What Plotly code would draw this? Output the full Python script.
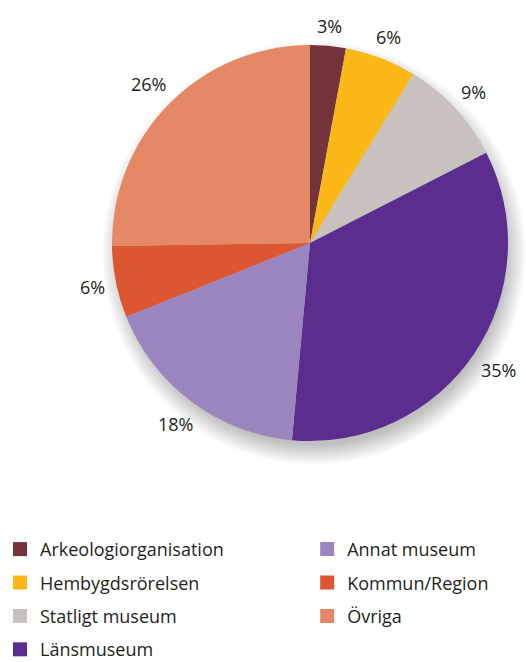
import math
import plotly.graph_objects as go

# Share of respondents by organisation type (percent)
categories = ["Arkeologiorganisation", "Hembygdsrörelsen", "Statligt museum",
              "Länsmuseum", "Annat museum", "Kommun/Region", "Övriga"]
shares = [3, 6, 9, 35, 18, 6, 26]
colors = ["#74323a", "#fbb817", "#c8c1be", "#5b2d8e", "#9b85be", "#db5631", "#e58865"]

W, H = 526, 662
FONT = "Open Sans"
TEXT_COLOR = "#231f20"
LABEL_SIZE = 18

# Pie placement in pixels
CX, CY, R = 310, 243, 198


def px_domain(cx, cy, r):
    clamp = lambda v: min(1.0, max(0.0, v))
    return dict(x=[clamp((cx - r) / W), clamp((cx + r) / W)],
                y=[clamp(1 - (cy + r) / H), clamp(1 - (cy - r) / H)])


fig = go.Figure()

# Soft drop shadow: stacked translucent discs offset to the lower right
for k in range(-6, 15):
    fig.add_trace(go.Pie(
        values=[1], labels=["shadow"], sort=False,
        marker=dict(colors=["rgba(0,0,0,0.0105)"], line=dict(width=0)),
        textinfo="none", hoverinfo="skip", showlegend=False,
        domain=px_domain(CX + 4, CY + 10, R + k),
    ))

fig.add_trace(go.Pie(
    labels=categories,
    values=shares,
    sort=False,
    direction="clockwise",
    rotation=0,
    marker=dict(colors=colors, line=dict(width=0)),
    textinfo="none",
    showlegend=False,
    domain=px_domain(CX, CY, R),
    hovertemplate="%{label}: %{value}%<extra></extra>",
))

# Percentage labels set just outside the middle of each slice's arc
total = sum(shares)
start = 0.0
for val in shares:
    theta = math.radians((start + val / 2) / total * 360)
    start += val
    text = f"{val}%"
    half_w = 0.3 * LABEL_SIZE * len(text)
    half_h = 0.4 * LABEL_SIZE
    dist = R + 12 + abs(math.sin(theta)) * half_w + abs(math.cos(theta)) * half_h
    px = CX + dist * math.sin(theta)
    py = CY - dist * math.cos(theta)
    fig.add_annotation(
        x=px / W, y=1 - py / H, xref="paper", yref="paper",
        text=text, showarrow=False, xanchor="center", yanchor="middle",
        font=dict(family=FONT, size=LABEL_SIZE, color=TEXT_COLOR),
    )

# Two-column legend: first four categories on the left, rest on the right
for i, (name, col) in enumerate(zip(categories, colors)):
    fig.add_trace(go.Scatter(
        x=[None], y=[None], mode="markers", name=name,
        marker=dict(symbol="square", size=14, color=col),
        legendgroup=name,
        legend="legend" if i < 4 else "legend2",
        showlegend=True,
    ))

legend_style = dict(
    font=dict(family=FONT, size=18, color=TEXT_COLOR),
    orientation="v", yanchor="top", xanchor="left",
    traceorder="grouped", tracegroupgap=7,
    bgcolor="rgba(0,0,0,0)", borderwidth=0,
)

fig.update_layout(
    width=W, height=H,
    margin=dict(l=0, r=0, t=0, b=0, autoexpand=False),
    paper_bgcolor="white", plot_bgcolor="white",
    xaxis=dict(visible=False), yaxis=dict(visible=False),
    legend=dict(x=0.0, y=0.198, **legend_style),
    legend2=dict(x=0.584, y=0.198, **legend_style),
)

fig.write_html("out.html")
